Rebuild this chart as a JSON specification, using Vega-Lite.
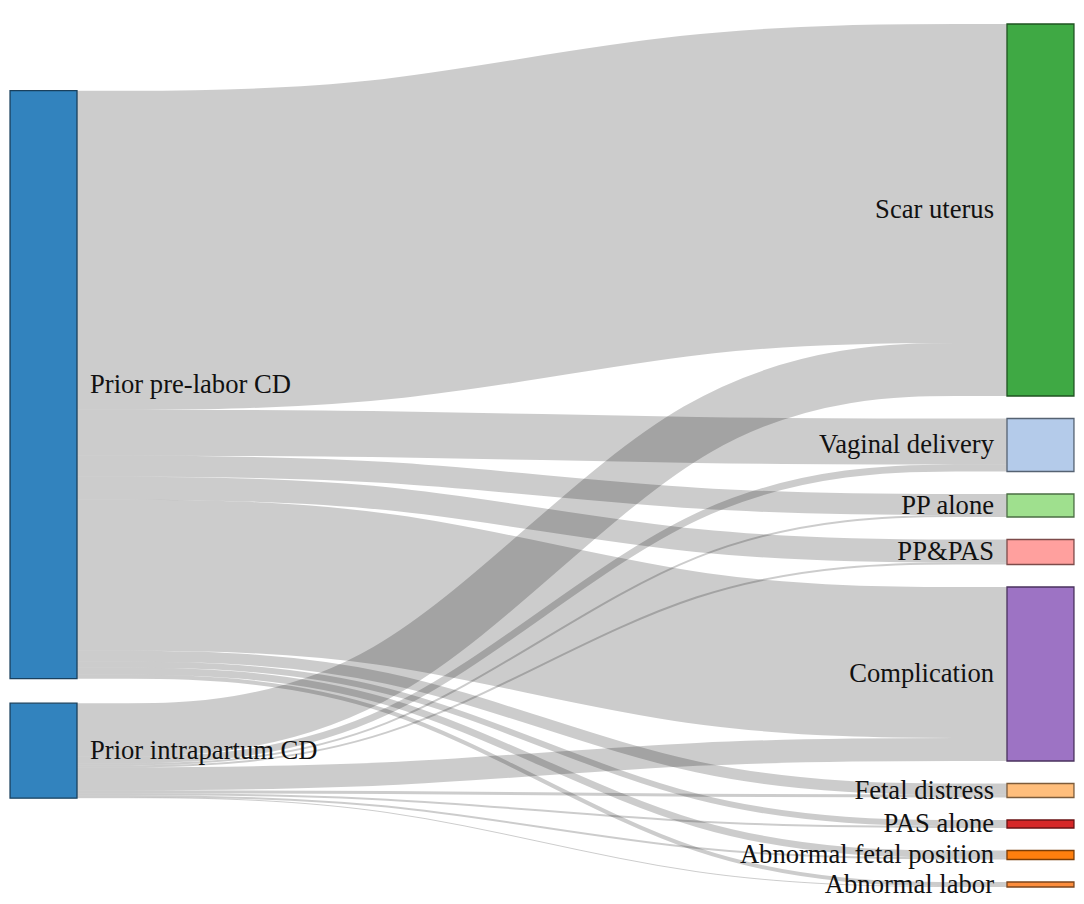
{
  "$schema": "https://vega.github.io/schema/vega-lite/v6.json",
  "width": 1084,
  "height": 904,
  "padding": 0,
  "autosize": "none",
  "config": {"view": {"stroke": null}},
  "data": {"values": [
    {"source": "Prior pre-labor CD", "target": "Scar uterus", "value": 319, "sOrder": 0, "tOrder": 0},
    {"source": "Prior pre-labor CD", "target": "Vaginal delivery", "value": 46, "sOrder": 0, "tOrder": 1},
    {"source": "Prior pre-labor CD", "target": "PP alone", "value": 21, "sOrder": 0, "tOrder": 2},
    {"source": "Prior pre-labor CD", "target": "PP&PAS", "value": 23, "sOrder": 0, "tOrder": 3},
    {"source": "Prior pre-labor CD", "target": "Complication", "value": 151, "sOrder": 0, "tOrder": 4},
    {"source": "Prior pre-labor CD", "target": "Fetal distress", "value": 11, "sOrder": 0, "tOrder": 5},
    {"source": "Prior pre-labor CD", "target": "PAS alone", "value": 6, "sOrder": 0, "tOrder": 6},
    {"source": "Prior pre-labor CD", "target": "Abnormal fetal position", "value": 7, "sOrder": 0, "tOrder": 7},
    {"source": "Prior pre-labor CD", "target": "Abnormal labor", "value": 4, "sOrder": 0, "tOrder": 8},
    {"source": "Prior intrapartum CD", "target": "Scar uterus", "value": 53, "sOrder": 1, "tOrder": 0},
    {"source": "Prior intrapartum CD", "target": "Vaginal delivery", "value": 7, "sOrder": 1, "tOrder": 1},
    {"source": "Prior intrapartum CD", "target": "PP alone", "value": 2, "sOrder": 1, "tOrder": 2},
    {"source": "Prior intrapartum CD", "target": "PP&PAS", "value": 2, "sOrder": 1, "tOrder": 3},
    {"source": "Prior intrapartum CD", "target": "Complication", "value": 23, "sOrder": 1, "tOrder": 4},
    {"source": "Prior intrapartum CD", "target": "Fetal distress", "value": 3, "sOrder": 1, "tOrder": 5},
    {"source": "Prior intrapartum CD", "target": "PAS alone", "value": 2, "sOrder": 1, "tOrder": 6},
    {"source": "Prior intrapartum CD", "target": "Abnormal fetal position", "value": 2, "sOrder": 1, "tOrder": 7},
    {"source": "Prior intrapartum CD", "target": "Abnormal labor", "value": 1, "sOrder": 1, "tOrder": 8}
  ]},
  "layer": [
    {
      "transform": [
        {"window": [{"op": "sum", "field": "value", "as": "sCum"}], "groupby": ["source"], "sort": [{"field": "tOrder"}]},
        {"window": [{"op": "sum", "field": "value", "as": "tCum"}], "groupby": ["target"], "sort": [{"field": "sOrder"}]},
        {"window": [{"op": "sum", "field": "value", "as": "sColCum"}], "sort": [{"field": "sOrder"}]},
        {"window": [{"op": "sum", "field": "value", "as": "tColCum"}], "sort": [{"field": "tOrder"}]},
        {"joinaggregate": [{"op": "sum", "field": "value", "as": "sTot"}], "groupby": ["source"]},
        {"joinaggregate": [{"op": "sum", "field": "value", "as": "tTot"}], "groupby": ["target"]},
        {"calculate": "66.7 + datum.sColCum - datum.sTot + datum.sOrder*24.5 + datum.sCum - datum.value/2", "as": "ys"},
        {"calculate": "datum.tColCum - datum.tTot + datum.tOrder*22.5 + datum.tCum - datum.value/2", "as": "yt"},
        {"calculate": "datum.ys", "as": "p0"},
        {"calculate": "datum.ys", "as": "p1"},
        {"calculate": "datum.yt", "as": "p2"},
        {"calculate": "datum.yt", "as": "p3"},
        {"fold": ["p0", "p1", "p2", "p3"], "as": ["k", "yy"]},
        {"calculate": "indexof(['p0','p1','p2','p3'], datum.k)/3", "as": "xx"}
      ],
      "mark": {"type": "line", "interpolate": "basis", "stroke": "#000", "strokeOpacity": 0.2, "strokeCap": "butt"},
      "encoding": {
        "x": {"field": "xx", "type": "quantitative", "scale": {"domain": [-0.0828, 1.0828], "nice": false, "zero": false}, "axis": null},
        "y": {"field": "yy", "type": "quantitative", "scale": {"domain": [-24, 880], "nice": false, "zero": false, "reverse": true}, "axis": null},
        "detail": [{"field": "source"}, {"field": "target"}],
        "size": {"field": "value", "type": "quantitative", "scale": {"type": "linear", "domain": [0, 100], "range": [0, 100]}, "legend": null}
      }
    },
    {
      "transform": [
        {"fold": ["source", "target"], "as": ["side", "node"]},
        {"calculate": "datum.side=='source' ? datum.sOrder : datum.tOrder", "as": "ord"},
        {"aggregate": [{"op": "sum", "field": "value", "as": "tot"}], "groupby": ["side", "node", "ord"]},
        {"window": [{"op": "sum", "field": "tot", "as": "cum"}], "groupby": ["side"], "sort": [{"field": "ord"}]},
        {"calculate": "datum.side=='source' ? 66.7 + datum.cum - datum.tot + datum.ord*24.5 : datum.cum - datum.tot + datum.ord*22.5", "as": "y0"},
        {"calculate": "datum.y0 + datum.tot", "as": "y1"},
        {"calculate": "datum.side=='source' ? -0.072 : 1", "as": "x0"},
        {"calculate": "datum.side=='source' ? 0 : 1.072", "as": "x1"}
      ],
      "mark": {"type": "rect", "strokeWidth": 1.3},
      "encoding": {
        "x": {"field": "x0", "type": "quantitative", "scale": {"domain": [-0.0828, 1.0828], "nice": false, "zero": false}, "axis": null},
        "x2": {"field": "x1"},
        "y": {"field": "y0", "type": "quantitative", "scale": {"domain": [-24, 880], "nice": false, "zero": false, "reverse": true}, "axis": null},
        "y2": {"field": "y1"},
        "fill": {"field": "node", "type": "nominal", "legend": null, "scale": {
          "domain": ["Prior pre-labor CD", "Prior intrapartum CD", "Scar uterus", "Vaginal delivery", "PP alone", "PP&PAS", "Complication", "Fetal distress", "PAS alone", "Abnormal fetal position", "Abnormal labor"],
          "range": ["#3283be", "#3283be", "#3fa944", "#b4cbea", "#9fe08e", "#ffa09e", "#9d73c4", "#ffbe7c", "#d62728", "#ff7f0e", "#fd8d3c"]}},
        "stroke": {"field": "node", "type": "nominal", "legend": null, "scale": {
          "domain": ["Prior pre-labor CD", "Prior intrapartum CD", "Scar uterus", "Vaginal delivery", "PP alone", "PP&PAS", "Complication", "Fetal distress", "PAS alone", "Abnormal fetal position", "Abnormal labor"],
          "range": ["#19405d", "#19405d", "#1f5321", "#556272", "#4b6d44", "#7d4b4a", "#49325d", "#7d5c3b", "#691314", "#7d3e07", "#7c451d"]}}
      }
    },
    {
      "transform": [
        {"fold": ["source", "target"], "as": ["side", "node"]},
        {"calculate": "datum.side=='source' ? datum.sOrder : datum.tOrder", "as": "ord"},
        {"aggregate": [{"op": "sum", "field": "value", "as": "tot"}], "groupby": ["side", "node", "ord"]},
        {"window": [{"op": "sum", "field": "tot", "as": "cum"}], "groupby": ["side"], "sort": [{"field": "ord"}]},
        {"calculate": "66.7 + datum.cum - datum.tot/2 + datum.ord*24.5", "as": "ym"},
        {"filter": "datum.side=='source'"},
        {"calculate": "0", "as": "xl"}
      ],
      "mark": {"type": "text", "align": "left", "baseline": "middle", "dx": 13, "font": "Liberation Serif", "fontSize": 26.6, "fill": "#111"},
      "encoding": {
        "x": {"field": "xl", "type": "quantitative", "scale": {"domain": [-0.0828, 1.0828], "nice": false, "zero": false}, "axis": null},
        "y": {"field": "ym", "type": "quantitative", "scale": {"domain": [-24, 880], "nice": false, "zero": false, "reverse": true}, "axis": null},
        "text": {"field": "node"}
      }
    },
    {
      "transform": [
        {"fold": ["source", "target"], "as": ["side", "node"]},
        {"calculate": "datum.side=='source' ? datum.sOrder : datum.tOrder", "as": "ord"},
        {"aggregate": [{"op": "sum", "field": "value", "as": "tot"}], "groupby": ["side", "node", "ord"]},
        {"window": [{"op": "sum", "field": "tot", "as": "cum"}], "groupby": ["side"], "sort": [{"field": "ord"}]},
        {"calculate": "datum.cum - datum.tot/2 + datum.ord*22.5", "as": "ym"},
        {"filter": "datum.side=='target'"},
        {"calculate": "1", "as": "xl"}
      ],
      "mark": {"type": "text", "align": "right", "baseline": "middle", "dx": -13, "font": "Liberation Serif", "fontSize": 26.6, "fill": "#111"},
      "encoding": {
        "x": {"field": "xl", "type": "quantitative", "scale": {"domain": [-0.0828, 1.0828], "nice": false, "zero": false}, "axis": null},
        "y": {"field": "ym", "type": "quantitative", "scale": {"domain": [-24, 880], "nice": false, "zero": false, "reverse": true}, "axis": null},
        "text": {"field": "node"}
      }
    }
  ]
}
